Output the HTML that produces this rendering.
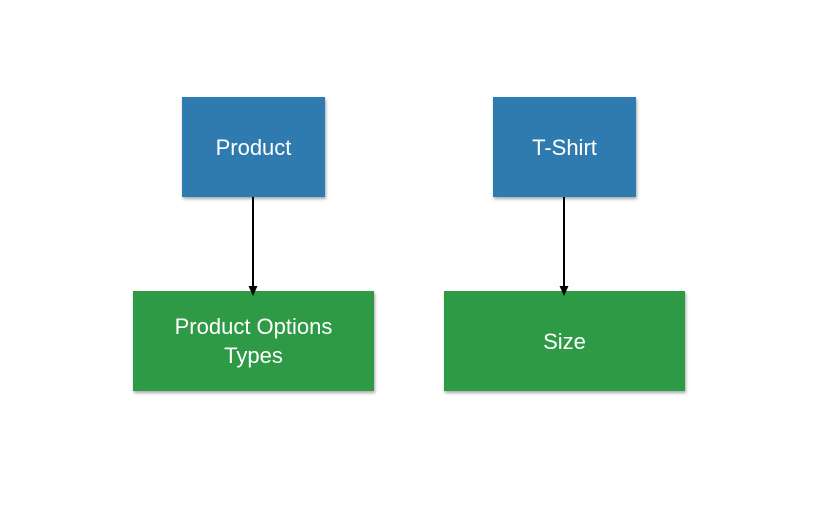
<!DOCTYPE html>
<html><head><style>
body{margin:0;width:827px;height:530px;background:#fff;position:relative;overflow:hidden;font-family:"Liberation Sans",sans-serif}
.b{position:absolute;color:#fff;display:flex;align-items:center;justify-content:center;text-align:center;font-size:22px;line-height:29px;box-shadow:1px 2px 3px rgba(0,0,0,0.35)}
.blue{background:#2f7bb0}
.green{background:#2f9a45}
</style></head><body>
<div class="b blue" style="left:182px;top:97px;width:143px;height:100px">Product</div>
<div class="b blue" style="left:493px;top:97px;width:143px;height:100px">T-Shirt</div>
<div class="b green" style="left:133px;top:291px;width:241px;height:100px">Product Options<br>Types</div>
<div class="b green" style="left:444px;top:291px;width:241px;height:100px">Size</div>
<svg width="827" height="530" style="position:absolute;left:0;top:0">
<line x1="253" y1="197" x2="253" y2="288" stroke="#000" stroke-width="2"/>
<polygon points="248.5,286 257.5,286 253,296" fill="#000"/>
<line x1="564" y1="197" x2="564" y2="288" stroke="#000" stroke-width="2"/>
<polygon points="559.5,286 568.5,286 564,296" fill="#000"/>
</svg>
</body></html>
